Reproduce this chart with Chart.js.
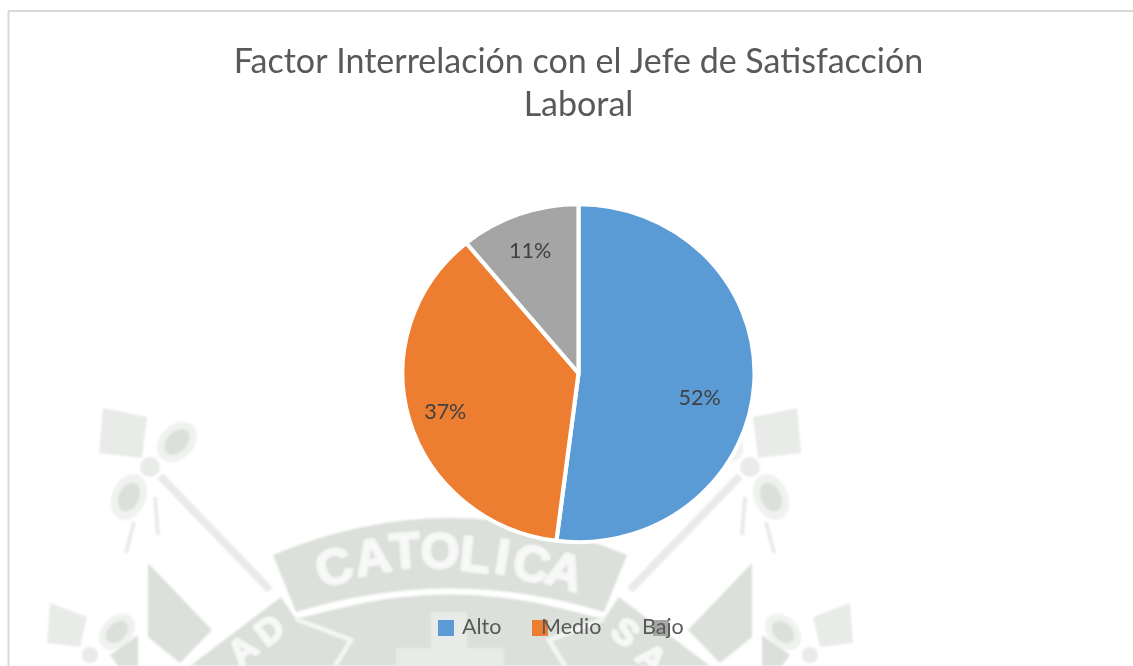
<!DOCTYPE html>
<html>
<head>
<meta charset="utf-8">
<style>html,body{margin:0;padding:0;background:#fff}canvas{display:block}</style>
<script src="https://cdn.jsdelivr.net/npm/chart.js@4/dist/chart.umd.min.js"></script>
</head>
<body>
<div style="width:1133px;height:666px;position:relative"><canvas id="c" width="1133" height="666"></canvas></div>
<script>
const titleLines = ["Factor Interrelación con el Jefe de Satisfacción", "Laboral"];
const categories = ["Alto", "Medio", "Bajo"];
const percentValues = [52, 37, 11];
const sliceColors = ["#5b9bd5", "#ed7d31", "#a5a5a5"];

const FONT = "Lato, Carlito, 'Open Sans', sans-serif";
const TEXT_GREY = "#595959";
const LABEL_GREY = "#404040";
const PIE_STRETCH_X = 174 / 167;          // the reference picture is slightly stretched sideways
const labelShifts = [[36.7, 19.3], [-52.1, 15], [-19.7, -42.4]];
const legendSwatchX = [438, 532, 653];
const legendTextX = [462, 541, 642];

function crestHalf(ctx) {
  const dark = "#dbe0da", light = "#e8ebe8", ring = "#f0f2f0";
  const poly = (pts, col) => {
    ctx.fillStyle = col; ctx.beginPath();
    pts.forEach((p, i) => i ? ctx.lineTo(p[0], p[1]) : ctx.moveTo(p[0], p[1]));
    ctx.closePath(); ctx.fill();
  };
  const oval = (x, y, rx, ry, rot, col) => {
    ctx.fillStyle = col; ctx.beginPath();
    ctx.ellipse(x, y, rx, ry, rot, 0, Math.PI * 2); ctx.fill();
  };
  const stroke = (x1, y1, x2, y2, w, col) => {
    ctx.strokeStyle = col; ctx.lineWidth = w; ctx.lineCap = "butt"; ctx.beginPath();
    ctx.moveTo(x1, y1); ctx.lineTo(x2, y2); ctx.stroke();
  };
  // upper flag
  poly([[103, 408], [147, 417], [142, 458], [99, 453]], light);
  oval(177, 442, 23, 17, -0.8, ring);
  oval(177, 442, 15, 10, -0.8, dark);
  oval(129, 497, 24, 17, -1.15, ring);
  oval(129, 497, 15, 10, -1.15, dark);
  oval(150, 467, 10, 10, 0, light);
  stroke(160, 476, 270, 590, 8, light);
  stroke(155, 497, 158, 535, 4, light);
  stroke(134, 522, 126, 553, 4, light);
  // triangle beside the banner
  poly([[148, 563], [212, 630], [180, 663], [148, 637]], dark);
  // lower flag
  poly([[50, 603], [87, 617], [80, 647], [47, 643]], light);
  oval(117, 632, 21, 15, -0.8, ring);
  oval(117, 632, 13, 9, -0.8, dark);
  oval(90, 655, 8, 8, 0, light);
  poly([[110, 655], [138, 635], [138, 666], [118, 666]], dark);
}

const backdrop = {
  id: "backdrop",
  beforeDraw(chart) {
    const ctx = chart.ctx;
    ctx.save();
    ctx.fillStyle = "#fff";
    ctx.fillRect(0, 0, 1133, 666);
    ctx.filter = "blur(0.8px)";
    crestHalf(ctx);
    ctx.save(); ctx.translate(900, 0); ctx.scale(-1, 1); crestHalf(ctx); ctx.restore();

    // banner
    ctx.fillStyle = "#dbe0da";
    ctx.beginPath();
    ctx.moveTo(273, 555); ctx.quadraticCurveTo(450, 481, 627, 555);
    ctx.lineTo(604, 612); ctx.quadraticCurveTo(450, 565, 296, 612);
    ctx.closePath(); ctx.fill();

    // lower ring
    ctx.beginPath();
    ctx.moveTo(190, 666); ctx.lineTo(281, 597); ctx.lineTo(296, 619);
    ctx.lineTo(345, 607); ctx.quadraticCurveTo(450, 582, 555, 607);
    ctx.lineTo(604, 619); ctx.lineTo(619, 597); ctx.lineTo(710, 666);
    ctx.closePath(); ctx.fill();

    ctx.strokeStyle = "#f4f5f4"; ctx.lineWidth = 5;
    [[[296, 619], [351, 640], [335, 666]], [[604, 619], [549, 640], [565, 666]]].forEach(seg => {
      ctx.beginPath();
      seg.forEach((p, i) => i ? ctx.lineTo(p[0], p[1]) : ctx.moveTo(p[0], p[1]));
      ctx.stroke();
    });

    // cross
    ctx.fillStyle = "#e8ebe8";
    ctx.fillRect(431, 612, 36, 54);
    ctx.fillRect(396, 648, 108, 18);

    // lettering
    ctx.fillStyle = "#f8f9f8";
    ctx.strokeStyle = "#f8f9f8"; ctx.lineWidth = 2; ctx.lineJoin = "round";
    ctx.textAlign = "center"; ctx.textBaseline = "middle";
    const glyphs = [["C", 335, 570, -17, 50], ["A", 373, 560, -10, 50], ["T", 405, 554, -4, 50], ["O", 440, 554, 1, 50],
      ["L", 475, 558, 6, 50], ["I", 502, 560, 9, 50], ["C", 531, 567, 13, 50], ["A", 564, 574, 17, 50],
      ["A", 244, 652, -40, 36], ["D", 271, 632, -38, 36], ["S", 624, 634, 38, 36], ["A", 650, 660, 42, 36]];
    glyphs.forEach(g => {
      ctx.save(); ctx.translate(g[1], g[2]); ctx.rotate(g[3] * Math.PI / 180);
      ctx.font = "bold " + g[4] + "px 'Liberation Sans', sans-serif";
      ctx.fillText(g[0], 0, 0); ctx.strokeText(g[0], 0, 0); ctx.restore();
    });
    ctx.filter = "none";

    // chart frame
    ctx.strokeStyle = "#d9d9d9"; ctx.lineWidth = 2;
    ctx.beginPath(); ctx.moveTo(8.5, 666); ctx.lineTo(8.5, 11); ctx.lineTo(1133, 11); ctx.stroke();
    ctx.restore();
  }
};

const stretchPie = {
  id: "stretchPie",
  beforeDatasetsDraw(chart) {
    const a = chart.getDatasetMeta(0).data[0], ctx = chart.ctx;
    ctx.save();
    ctx.translate(a.x, 0); ctx.scale(PIE_STRETCH_X, 1); ctx.translate(-a.x, 0);
  },
  afterDatasetsDraw(chart) { chart.ctx.restore(); }
};

const annotations = {
  id: "annotations",
  afterDraw(chart) {
    const ctx = chart.ctx;
    ctx.save();
    ctx.fillStyle = LABEL_GREY;
    ctx.font = "21.5px " + FONT;
    ctx.textAlign = "center"; ctx.textBaseline = "middle";
    chart.getDatasetMeta(0).data.forEach((arc, i) => {
      const p = arc.tooltipPosition();
      ctx.fillText(percentValues[i] + "%", p.x + labelShifts[i][0], p.y + labelShifts[i][1]);
    });
    categories.forEach((c, i) => {
      ctx.fillStyle = sliceColors[i];
      ctx.fillRect(legendSwatchX[i], 620, 16, 16);
    });
    ctx.fillStyle = TEXT_GREY;
    ctx.font = "21.5px " + FONT;
    ctx.textAlign = "left"; ctx.textBaseline = "alphabetic";
    categories.forEach((c, i) => ctx.fillText(c, legendTextX[i], 634));
    ctx.restore();
  }
};

new Chart(document.getElementById("c"), {
  type: "pie",
  data: {
    labels: categories,
    datasets: [{
      data: percentValues,
      backgroundColor: sliceColors,
      borderColor: "#ffffff",
      borderWidth: 4,
      hoverOffset: 0,
      radius: 169
    }]
  },
  options: {
    responsive: false,
    animation: false,
    layout: { padding: { left: 223, right: 199, top: 40, bottom: 126 } },
    plugins: {
      legend: { display: false },
      tooltip: { enabled: false },
      title: {
        display: true,
        text: titleLines,
        color: TEXT_GREY,
        font: { family: FONT, size: 34, weight: "normal", lineHeight: 1.27 },
        padding: { top: 0, bottom: 80 }
      }
    }
  },
  plugins: [backdrop, stretchPie, annotations]
});
</script>
</body>
</html>
